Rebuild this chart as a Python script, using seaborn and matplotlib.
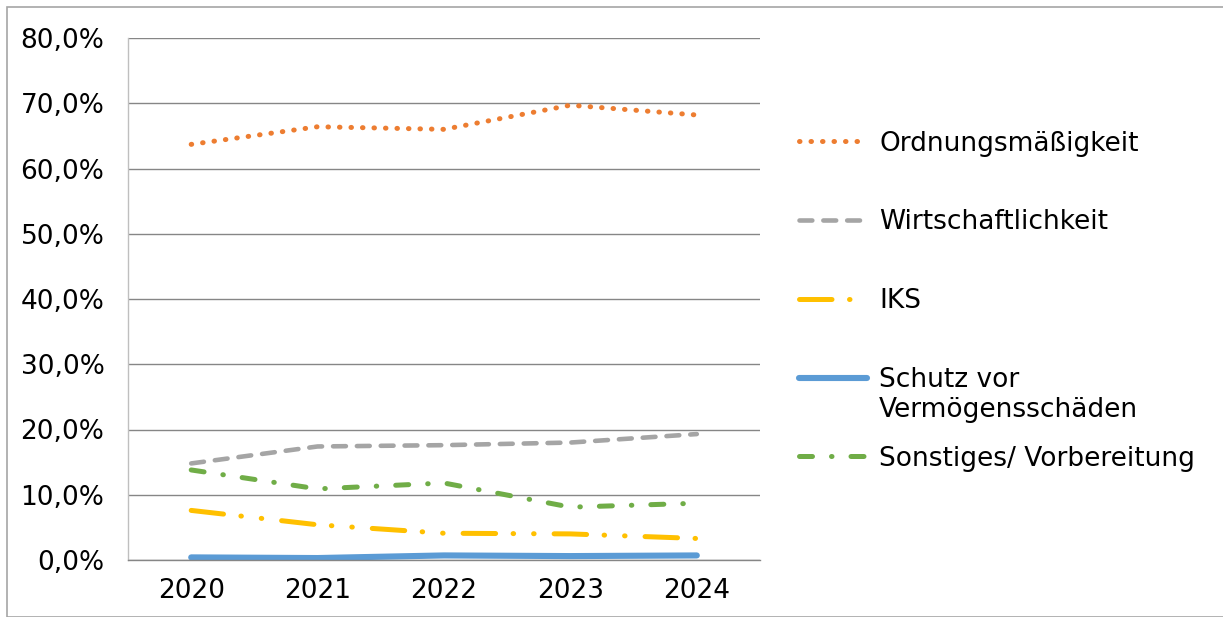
import pandas as pd
import numpy as np
import matplotlib.pyplot as plt
import seaborn as sns
from matplotlib.patches import Rectangle
from matplotlib.ticker import FuncFormatter, FixedLocator

years = [2020, 2021, 2022, 2023, 2024]
ordnung = [63.7, 66.4, 66.0, 69.7, 68.2]
wirtschaft = [14.8, 17.4, 17.6, 18.0, 19.3]
iks = [7.6, 5.4, 4.1, 4.0, 3.3]
schutz = [0.4, 0.3, 0.7, 0.6, 0.7]
sonstiges = [13.8, 10.9, 11.8, 8.1, 8.7]

names = ["Ordnungsmäßigkeit", "Wirtschaftlichkeit", "IKS",
         "Schutz vor", "Sonstiges/ Vorbereitung"]
schutz_zeile2 = "Vermögensschäden"
colors = ["#ED7D31", "#A5A5A5", "#FFC000", "#5B9BD5", "#70AD47"]
widths = [3.6, 3.3, 3.6, 4.4, 3.6]
styles = [(0, (0.1, 2.2)), (0, (2.8, 2.4)), (0, (6.5, 3.5, 0.1, 4.0, 0.1, 4.0)),
          "-", (0, (2.6, 3.8, 0.1, 3.8))]

df = pd.DataFrame({"Jahr": years * 5,
                   "Anteil": ordnung + wirtschaft + iks + schutz + sonstiges,
                   "Kategorie": [n for n in names for _ in years]})

sns.set_style("white")
plt.rcParams["font.family"] = ["DejaVu Sans"]
plt.rcParams["text.color"] = "black"
plt.rcParams["lines.dash_capstyle"] = "round"
plt.rcParams["lines.solid_capstyle"] = "round"

fs = 19

fig = plt.figure(figsize=(12.23, 6.17), dpi=100)
ax = fig.add_axes([128 / 1223, 1 - 560 / 617, 632 / 1223, 522 / 617])

for name, c, lw, ls in zip(names, colors, widths, styles):
    sub = df[df["Kategorie"] == name]
    sns.lineplot(data=sub, x="Jahr", y="Anteil", ax=ax, color=c, lw=lw,
                 linestyle=ls, label=name)

ax.set_xlim(2019.5, 2024.5)
ax.set_ylim(0, 80)
ax.set_yticks(np.arange(0, 81, 10))
ax.yaxis.set_major_formatter(FuncFormatter(lambda v, p: f"{v:.1f}%".replace(".", ",")))
ax.set_xticks(years)
ax.xaxis.set_minor_locator(FixedLocator(np.arange(2019.5, 2025, 1)))
ax.tick_params(axis="x", which="major", length=0, labelsize=fs, pad=13, labelcolor="black")
ax.tick_params(axis="x", which="minor", length=6, color="#868686", width=1)
ax.tick_params(axis="y", length=6, color="#868686", width=1, labelsize=fs, pad=11,
               labelcolor="black")
ax.grid(axis="y", color="#868686", lw=1)
ax.set_axisbelow(True)
ax.set_xlabel("")
ax.set_ylabel("")
for s in ["top", "right"]:
    ax.spines[s].set_visible(False)
ax.spines["left"].set_color("#BFBFBF")
ax.spines["bottom"].set_color("#868686")
ax.spines["left"].set_linewidth(1)
ax.spines["bottom"].set_linewidth(1)

h, l = ax.get_legend_handles_labels()
ax.get_legend().remove()
leg = fig.legend(h, l, loc="center left", bbox_to_anchor=(775 / 1223, 0.512),
                 frameon=False, fontsize=fs, handlelength=2.6, handletextpad=0.45,
                 labelspacing=2.0)

# second line of the "Schutz vor" entry overflows below it, as in Excel
fig.canvas.draw()
bb = leg.get_texts()[3].get_window_extent().transformed(fig.transFigure.inverted())
fig.text(bb.x0, bb.y0 - 30 / 617, schutz_zeile2, fontsize=fs, va="bottom", ha="left")

fig.patches.append(Rectangle((7 / 1223, 0), 1, 1 - 7 / 617, transform=fig.transFigure,
                             fill=False, edgecolor="#A6A6A6", lw=1.2))

fig.savefig("out.png", dpi=100, facecolor="w")
